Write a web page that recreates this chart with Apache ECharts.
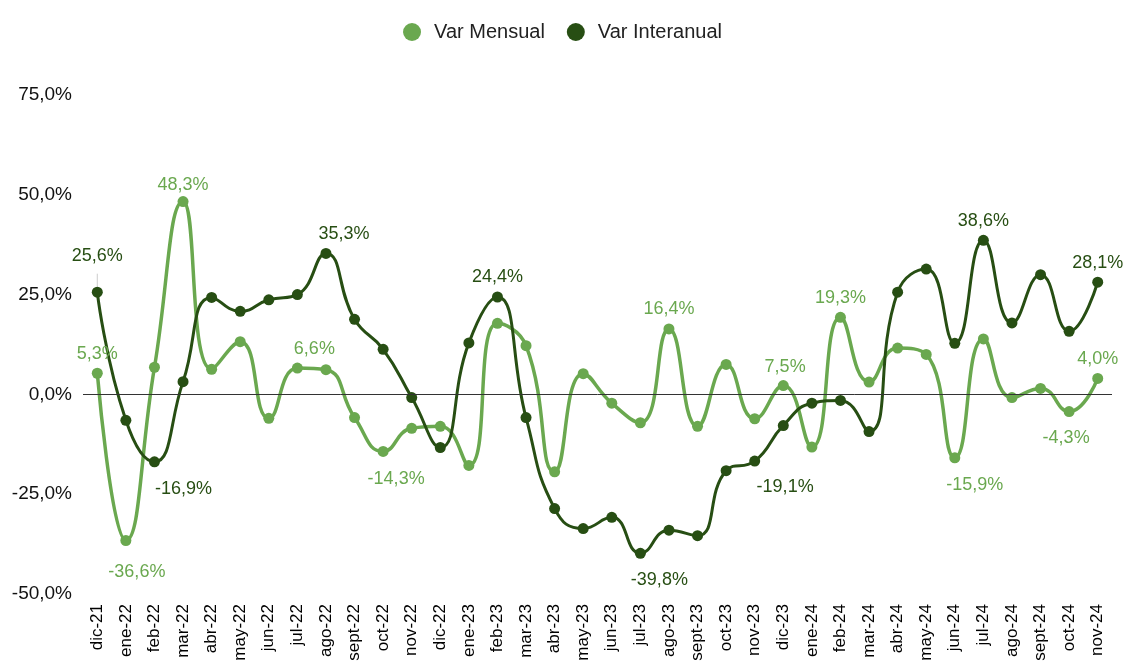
<!DOCTYPE html>
<html>
<head>
<meta charset="utf-8">
<script src="https://cdn.jsdelivr.net/npm/echarts@6/dist/echarts.min.js"></script>
<style>
  html, body { margin: 0; padding: 0; background: #fff; }
  #main { width: 1125px; height: 666px; }
</style>
</head>
<body>
<div id="main"></div>
<script>
// categorías (meses)
var months = ['dic-21','ene-22','feb-22','mar-22','abr-22','may-22','jun-22','jul-22','ago-22','sept-22','oct-22','nov-22',
    'dic-22','ene-23','feb-23','mar-23','abr-23','may-23','jun-23','jul-23','ago-23','sept-23','oct-23','nov-23',
    'dic-23','ene-24','feb-24','mar-24','abr-24','may-24','jun-24','jul-24','ago-24','sept-24','oct-24','nov-24'];

// variación mensual (%)
var varMensual = [5.3, -36.6, 6.8, 48.3, 6.3, 13.2, -6.0, 6.6, 6.2, -5.8, -14.3, -8.5,
    -8.0, -17.8, 17.8, 12.2, -19.4, 5.2, -2.2, -7.1, 16.4, -8.0, 7.5, -6.1,
    2.2, -13.2, 19.3, 3.1, 11.6, 10.0, -15.9, 13.9, -0.8, 1.5, -4.3, 4.0];

// variación interanual (%)
var varInteranual = [25.6, -6.5, -16.9, 3.2, 24.3, 20.8, 23.7, 25.0, 35.3, 18.8, 11.3, -0.8,
    -13.3, 12.9, 24.4, -5.8, -28.6, -33.6, -30.8, -39.8, -34.0, -35.4, -19.1, -16.7,
    -7.8, -2.2, -1.5, -9.3, 25.6, 31.4, 12.8, 38.6, 17.9, 30.0, 15.8, 28.1];

// ticks eje Y
var yTicks = { min: -50, max: 75, step: 25 };

var colMensual = '#6aa84f';
var colInter = '#274e13';
var fuente = 'Liberation Sans';

function pct(v) {
    return v.toFixed(1).replace('.', ',') + '%';
}

// etiquetas visibles: índice -> posición
var labelsMensual = {
    0: { position: 'top' },
    1: { position: 'bottom', offset: [11, 12] },
    3: { position: 'top', offset: [0, 3] },
    7: { position: 'top', offset: [17, 0] },
    10: { position: 'bottom', offset: [13, 8] },
    20: { position: 'top' },
    22: { position: 'top', offset: [59, 22] },
    26: { position: 'top' },
    30: { position: 'bottom', offset: [20, 8] },
    34: { position: 'bottom', offset: [-3, 7] },
    35: { position: 'top' }
};
var labelsInter = {
    0: { position: 'top', offset: [0, -17], line: true },
    2: { position: 'bottom', offset: [29, 8] },
    8: { position: 'top', offset: [18, 0] },
    14: { position: 'top' },
    19: { position: 'bottom', offset: [19, 7] },
    22: { position: 'bottom', offset: [59, -3] },
    31: { position: 'top' },
    35: { position: 'top' }
};

function buildData(values, labels, color) {
    return values.map(function (v, i) {
        var l = labels[i];
        var item = { value: v };
        if (l) {
            item.label = {
                show: true,
                position: l.position,
                offset: l.offset || [0, 0],
                color: color,
                fontFamily: fuente,
                fontSize: 18,
                formatter: function (p) { return pct(p.value); }
            };
            if (l.line) {
                item.labelLine = { show: true, lineStyle: { color: '#cccccc', width: 1 } };
            }
        }
        return item;
    });
}

var myChart = echarts.init(document.getElementById('main'));

var option = {
    animation: false,
    legend: {
        top: 17,
        left: 'center',
        icon: 'circle',
        itemWidth: 34,
        itemHeight: 18,
        itemGap: 22,
        textStyle: { fontFamily: fuente, fontSize: 20, color: '#222' },
        data: ['Var Mensual', 'Var Interanual']
    },
    grid: { left: 83, right: 13, top: 95, bottom: 72 },
    xAxis: {
        type: 'category',
        data: months,
        boundaryGap: true,
        axisLine: { show: false },
        axisTick: { show: false },
        axisLabel: {
            rotate: 90,
            interval: 0,
            margin: 10,
            color: '#000',
            fontFamily: fuente,
            fontSize: 17
        }
    },
    yAxis: {
        type: 'value',
        min: yTicks.min,
        max: yTicks.max,
        interval: yTicks.step,
        splitLine: { show: false },
        axisLine: { show: false },
        axisTick: { show: false },
        axisLabel: {
            margin: 11,
            color: '#111',
            fontFamily: fuente,
            fontSize: 19,
            formatter: function (v) { return pct(v); }
        }
    },
    series: [
        {
            name: 'Var Mensual',
            type: 'line',
            smooth: 0.5,
            symbol: 'circle',
            symbolSize: 11,
            itemStyle: { color: colMensual },
            lineStyle: { color: colMensual, width: 3.5 },
            data: buildData(varMensual, labelsMensual, colMensual),
            markLine: {
                silent: true,
                symbol: 'none',
                label: { show: false },
                lineStyle: { color: '#333', width: 1, type: 'solid' },
                data: [{ yAxis: 0 }]
            }
        },
        {
            name: 'Var Interanual',
            type: 'line',
            smooth: 0.5,
            symbol: 'circle',
            symbolSize: 11,
            itemStyle: { color: colInter },
            lineStyle: { color: colInter, width: 3 },
            data: buildData(varInteranual, labelsInter, colInter)
        }
    ]
};

myChart.setOption(option);
</script>
</body>
</html>
